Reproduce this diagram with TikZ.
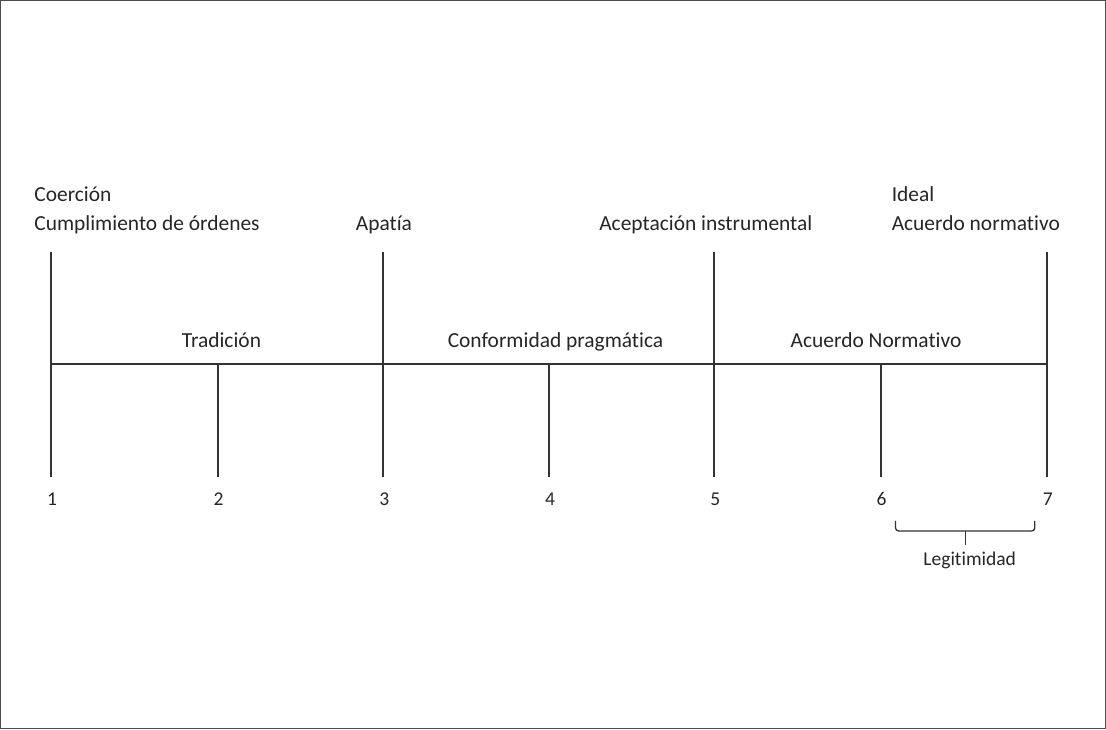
\documentclass[tikz,border=0pt]{standalone}
\usepackage{fontspec}
\setmainfont{Carlito}[Ligatures=NoCommon]
\usepackage{tikz}
\usetikzlibrary{positioning}

\begin{document}
\begin{tikzpicture}[x=1pt,y=-1pt,font=\fontsize{21.4}{26}\selectfont,
	axis/.style={line width=1.6pt,draw=black!80},
	lbl/.style={inner sep=0pt,text=black!85},
	num/.style={lbl,anchor=base,font=\fontsize{19.5}{23}\selectfont}]
	\draw[line width=1.2pt,black!70] (1.5,1.5) rectangle (1104.5,728.5);
	% tick positions
	\coordinate (t1) at (52,252);
	\coordinate (t3) at (383.5,252);
	\coordinate (t5) at (714,252);
	\coordinate (t7) at (1046,252);
	\coordinate (m1) at (52,364);
	\coordinate (m2) at (218.5,364);
	\coordinate (m3) at (383.5,364);
	\coordinate (m4) at (549,364);
	\coordinate (m5) at (714,364);
	\coordinate (m6) at (880.5,364);
	\coordinate (m7) at (1046,364);
	\coordinate (b1) at (52,477);
	\coordinate (b2) at (218.5,477);
	\coordinate (b3) at (383.5,477);
	\coordinate (b4) at (549,477);
	\coordinate (b5) at (714,477);
	\coordinate (b6) at (880.5,477);
	\coordinate (b7) at (1046,477);
	\draw[axis] (m1)--(m7);
	\draw[axis] (t1)--(b1);
	\draw[axis] (m2)--(b2);
	\draw[axis] (t3)--(b3);
	\draw[axis] (m4)--(b4);
	\draw[axis] (t5)--(b5);
	\draw[axis] (m6)--(b6);
	\draw[axis] (t7)--(b7);
	% numbers
	\node[num] (n1) at (53,506) {1};
	\node[num] (n2) at (219,506) {2};
	\node[num] (n3) at (384.5,506) {3};
	\node[num] (n4) at (550,506) {4};
	\node[num] (n5) at (715,506) {5};
	\node[num] (n6) at (881,506) {6};
	\node[num] (n7) at (1047,506) {7};
	% top labels
	\node[lbl,anchor=base west] (coer) at (35,202) {Coerción};
	\node[lbl,anchor=base west] (cump) at (35,231) {Cumplimiento de órdenes};
	\node[lbl,anchor=base west] (apat) at (356,231) {Apatía};
	\node[lbl,anchor=base west] (acep) at (599,231) {Aceptación instrumental};
	\node[lbl,anchor=base west] (ideal) at (891,202) {Ideal};
	\node[lbl,anchor=base west] (acnor) at (891,231) {Acuerdo normativo};
	% middle labels
	\node[lbl,anchor=base] (trad) at (222,348) {Tradición};
	\node[lbl,anchor=base] (conf) at (555.5,348) {Conformidad pragmática};
	\node[lbl,anchor=base] (acuN) at (875.5,348) {Acuerdo Normativo};
	% brace
	\coordinate (bl) at (895,521);
	\coordinate (br) at (1034,521);
	\coordinate (bm) at (965,531);
	\draw[line width=1.3pt,black!80,rounded corners=3pt] (bl)--(895,531)--(1034,531)--(br);
	\draw[line width=1.3pt,black!80] (bm)--(965,545);
	\node[num] (legit) at (969,565) {Legitimidad};
\end{tikzpicture}
\end{document}
